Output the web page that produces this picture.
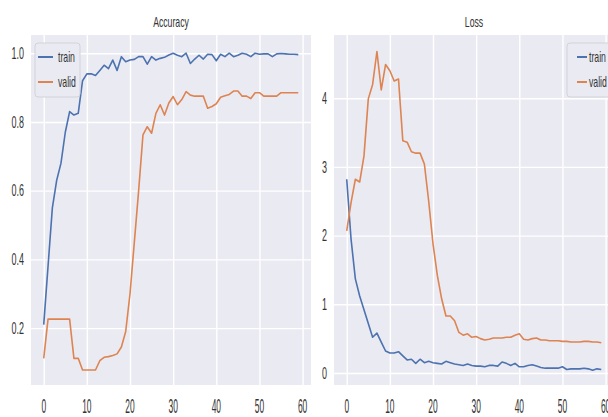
<!doctype html>
<html>
    <head>
        <script src="https://d3js.org/d3.v7.min.js"></script>
        <style>
            body,
            html {
                margin: 0;
                padding: 0;
                overflow: hidden;
                background: #fff;
            }
            text {
                font-family: "Liberation Sans", Arial, sans-serif;
                fill: #333;
            }
        </style>
    </head>
    <body>
        <script>
            const epochs = d3.range(60);

            const accTrain = [
                0.21, 0.38, 0.55, 0.63, 0.68, 0.77, 0.83, 0.82, 0.825, 0.92,
                0.94, 0.94, 0.935, 0.95, 0.965, 0.955, 0.98, 0.95, 0.99, 0.975,
                0.98, 0.982, 0.99, 0.99, 0.968, 0.99, 0.98, 0.985, 0.988, 0.995,
                1.0, 0.994, 0.99, 1.0, 0.97, 0.983, 0.994, 0.983, 0.997, 0.996,
                0.978, 0.997, 0.99, 1.0, 0.99, 0.994, 1.0, 0.997, 0.99, 1.0,
                0.997, 0.998, 0.998, 0.99, 0.998, 0.999, 0.998, 0.997, 0.997, 0.996,
            ];
            const accValid = [
                0.112, 0.226, 0.226, 0.226, 0.226, 0.226, 0.226, 0.112, 0.112, 0.078,
                0.078, 0.078, 0.078, 0.105, 0.115, 0.117, 0.12, 0.125, 0.145, 0.19,
                0.3, 0.45, 0.6, 0.762, 0.786, 0.767, 0.825, 0.85, 0.82, 0.855,
                0.874, 0.85, 0.865, 0.888, 0.878, 0.875, 0.875, 0.875, 0.84, 0.845,
                0.853, 0.872, 0.876, 0.88, 0.89, 0.89, 0.875, 0.875, 0.868, 0.885,
                0.885, 0.875, 0.875, 0.875, 0.875, 0.885, 0.885, 0.885, 0.885, 0.885,
            ];
            const lossTrain = [
                2.82, 1.95, 1.37, 1.12, 0.92, 0.72, 0.52, 0.58, 0.45, 0.32,
                0.29, 0.29, 0.31, 0.25, 0.19, 0.2, 0.14, 0.2, 0.15, 0.17,
                0.15, 0.14, 0.13, 0.17, 0.15, 0.13, 0.12, 0.11, 0.13, 0.11,
                0.1, 0.1, 0.09, 0.11, 0.11, 0.1, 0.16, 0.14, 0.11, 0.14,
                0.09, 0.09, 0.11, 0.12, 0.1, 0.08, 0.07, 0.07, 0.07, 0.07,
                0.09, 0.05, 0.06, 0.06, 0.06, 0.07, 0.06, 0.04, 0.06, 0.05,
            ];
            const lossValid = [
                2.07, 2.48, 2.82, 2.78, 3.16, 3.99, 4.2, 4.68, 4.12, 4.49,
                4.4, 4.25, 4.28, 3.38, 3.36, 3.22, 3.2, 3.2, 3.04, 2.5,
                1.88, 1.42, 1.08, 0.83, 0.83, 0.76, 0.59, 0.55, 0.57, 0.52,
                0.53, 0.5, 0.48, 0.49, 0.51, 0.51, 0.51, 0.52, 0.52, 0.55,
                0.57, 0.49, 0.48, 0.5, 0.51, 0.48, 0.48, 0.47, 0.47, 0.47,
                0.46, 0.46, 0.45, 0.45, 0.45, 0.46, 0.46, 0.45, 0.45, 0.44,
            ];

            const xTicks = [0, 10, 20, 30, 40, 50, 60];
            const accTicks = [0.2, 0.4, 0.6, 0.8, 1.0];
            const lossTicks = [0, 1, 2, 3, 4];
            const seriesNames = ["train", "valid"];
            const colors = ["#4c72b0", "#dd8452"];

            const width = 608;
            const height = 417;
            const svg = d3
                .create("svg")
                .attr("width", width)
                .attr("height", height)
                .attr("viewBox", [0, 0, width, height]);

            const panels = [
                {
                    title: "Accuracy",
                    x0: 31,
                    series: [accTrain, accValid],
                    yDomain: [0.0344, 1.053],
                    yTicks: accTicks,
                    yFormat: d3.format(".1f"),
                    legendX: 35,
                },
                {
                    title: "Loss",
                    x0: 334,
                    series: [lossTrain, lossValid],
                    yDomain: [-0.175, 4.92],
                    yTicks: lossTicks,
                    yFormat: d3.format("d"),
                    legendX: 567,
                },
            ];

            const plotTop = 35;
            const plotBottom = 385;
            const plotW = 280;
            const sx = 0.56;

            panels.forEach((p) => {
                const x = d3
                    .scaleLinear()
                    .domain([-2.95, 61.95])
                    .range([p.x0, p.x0 + plotW]);
                const y = d3
                    .scaleLinear()
                    .domain(p.yDomain)
                    .range([plotBottom, plotTop]);

                const g = svg.append("g");

                g.append("rect")
                    .attr("x", p.x0)
                    .attr("y", plotTop)
                    .attr("width", plotW)
                    .attr("height", plotBottom - plotTop)
                    .attr("fill", "#eaeaf2");

                // grid
                g.append("g")
                    .attr("transform", `translate(0,${plotBottom})`)
                    .call(
                        d3
                            .axisBottom(x)
                            .tickValues(xTicks)
                            .tickSize(-(plotBottom - plotTop))
                            .tickFormat("")
                    )
                    .call((a) => a.select(".domain").remove())
                    .selectAll("line")
                    .attr("stroke", "#fff")
                    .attr("stroke-width", 1.4);

                g.append("g")
                    .attr("transform", `translate(${p.x0},0)`)
                    .call(
                        d3
                            .axisLeft(y)
                            .tickValues(p.yTicks)
                            .tickSize(-plotW)
                            .tickFormat("")
                    )
                    .call((a) => a.select(".domain").remove())
                    .selectAll("line")
                    .attr("stroke", "#fff")
                    .attr("stroke-width", 1.4);

                // tick labels
                g.selectAll(".xt")
                    .data(xTicks)
                    .join("text")
                    .attr("class", "xt")
                    .attr("text-anchor", "middle")
                    .attr("font-size", 20)
                    .attr(
                        "transform",
                        (d) => `translate(${x(d)},413) scale(0.42,1)`
                    )
                    .text((d) => d);

                g.selectAll(".yt")
                    .data(p.yTicks)
                    .join("text")
                    .attr("class", "yt")
                    .attr("text-anchor", "end")
                    .attr("font-size", 16)
                    .attr(
                        "transform",
                        (d) =>
                            `translate(${p.x0 - 7},${y(d) + 5.7}) scale(${sx},1)`
                    )
                    .text((d) => p.yFormat(d));

                g.append("text")
                    .attr("text-anchor", "middle")
                    .attr("font-size", 15)
                    .attr(
                        "transform",
                        `translate(${p.x0 + plotW / 2},27) scale(0.58,1)`
                    )
                    .text(p.title);

                const line = d3
                    .line()
                    .x((d, i) => x(epochs[i]))
                    .y((d) => y(d));

                g.append("clipPath")
                    .attr("id", "clip-" + p.title)
                    .append("rect")
                    .attr("x", p.x0)
                    .attr("y", plotTop)
                    .attr("width", plotW)
                    .attr("height", plotBottom - plotTop);

                g.append("g")
                    .attr("clip-path", `url(#clip-${p.title})`)
                    .selectAll("path")
                    .data(p.series)
                    .join("path")
                    .attr("fill", "none")
                    .attr("stroke", (d, i) => colors[i])
                    .attr("stroke-width", 1.6)
                    .attr("stroke-linejoin", "round")
                    .attr("d", line);

                // legend
                const legend = g
                    .append("g")
                    .attr("transform", `translate(${p.legendX},43)`);

                legend
                    .append("rect")
                    .attr("width", 45)
                    .attr("height", 54)
                    .attr("rx", 3)
                    .attr("fill", "#eaeaf2")
                    .attr("stroke", "#d2d2da");

                legend
                    .selectAll("line")
                    .data(seriesNames)
                    .join("line")
                    .attr("x1", p.title === "Loss" ? 10 : 3)
                    .attr("x2", p.title === "Loss" ? 20 : 18)
                    .attr("y1", (d, i) => 14 + i * 25)
                    .attr("y2", (d, i) => 14 + i * 25)
                    .attr("stroke", (d, i) => colors[i])
                    .attr("stroke-width", 2);

                legend
                    .selectAll("text")
                    .data(seriesNames)
                    .join("text")
                    .attr("font-size", 15)
                    .attr(
                        "transform",
                        (d, i) =>
                            `translate(${p.title === "Loss" ? 22 : 23},${19 + i * 25}) scale(0.58,1)`
                    )
                    .text((d) => d);
            });

            document.body.appendChild(svg.node());
        </script>
    </body>
</html>
